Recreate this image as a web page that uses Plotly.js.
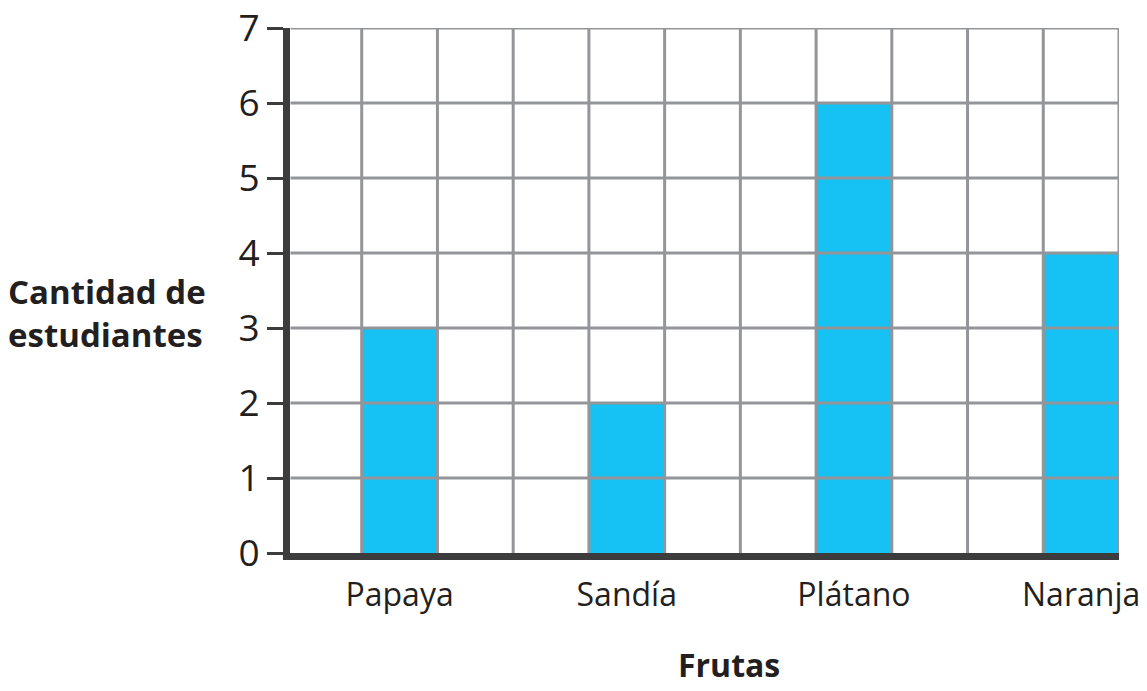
<!DOCTYPE html>
<html>
<head>
<meta charset="utf-8">
<script src="https://cdn.plot.ly/plotly-3.0.1.min.js"></script>
<style>html,body{margin:0;padding:0;background:#fff;}#chart{width:1147px;height:691px;}</style>
</head>
<body>
<div id="chart"></div>
<script>
const categories = ["Papaya", "Sandía", "Plátano", "Naranja"];
const values = [3, 2, 6, 4];
const yTicks = [0, 1, 2, 3, 4, 5, 6, 7];
const xTitle = "Frutas";
const yTitle = "Cantidad de<br>estudiantes";

// layout: each category occupies 3 grid columns, bar in the 2nd column
const cellsPerCat = 3;
const nCells = categories.length * cellsPerCat - 1; // 11 columns
const xPos = categories.map((c, i) => i * cellsPerCat + 1.5);

const gridColor = "#939598";
const axisColor = "#3c3c3c";
const font = "'Open Sans', 'Noto Sans', sans-serif";

const shapes = [];
for (let k = 1; k <= nCells; k++) {
  shapes.push({type: "line", xref: "x", yref: "y", x0: k, x1: k, y0: 0, y1: 7,
    line: {color: gridColor, width: 3}, layer: "above"});
}
for (let k = 1; k <= 7; k++) {
  shapes.push({type: "line", xref: "x", yref: "y", x0: 0.06, x1: nCells, y0: k, y1: k,
    line: {color: gridColor, width: 3}, layer: "above"});
}

const trace = {
  type: "bar",
  x: xPos,
  y: values,
  width: 1,
  marker: {color: "#16c1f3", line: {width: 0}},
  hoverinfo: "skip"
};

const layout = {
  width: 1147, height: 691,
  margin: {l: 290, r: 28, t: 28, b: 138},
  paper_bgcolor: "#fff", plot_bgcolor: "#fff",
  showlegend: false,
  font: {family: font, color: "#231f20"},
  xaxis: {
    range: [0.053, nCells], showgrid: false, zeroline: false,
    tickvals: xPos, ticktext: categories, ticks: "",
    tickfont: {size: 32, family: font, color: "#231f20"},
    ticklabelstandoff: 8,
    showline: true, linecolor: axisColor, linewidth: 7,
    fixedrange: true
  },
  yaxis: {
    range: [0, 7], tickvals: yTicks, showgrid: false, zeroline: false,
    ticks: "outside", ticklen: 16, tickwidth: 3, tickcolor: axisColor,
    tickfont: {size: 37, family: font, color: "#231f20"},
    ticklabeloverflow: "allow",
    showline: true, linecolor: axisColor, linewidth: 7,
    fixedrange: true
  },
  shapes: shapes,
  annotations: [
    {text: yTitle, xref: "paper", yref: "paper", x: -0.343, y: 0.458,
     xanchor: "left", yanchor: "middle", align: "left", showarrow: false,
     font: {size: 33, family: font, color: "#231f20", weight: "bold"}},
    {text: xTitle, xref: "paper", yref: "paper", x: 0.529, y: -0.213,
     xanchor: "center", yanchor: "middle", showarrow: false,
     font: {size: 32, family: font, color: "#231f20", weight: "bold"}}
  ]
};

Plotly.newPlot("chart", [trace], layout, {displayModeBar: false, staticPlot: true});
</script>
</body>
</html>
